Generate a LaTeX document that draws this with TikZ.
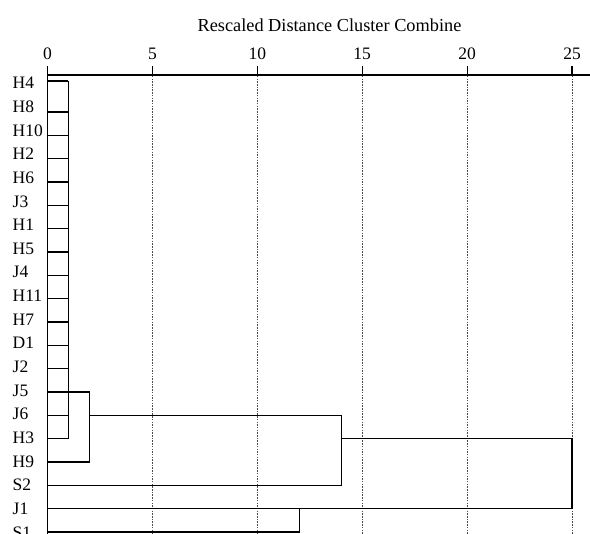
\documentclass[tikz,border=0pt]{standalone}
\usepackage{fontspec}
\setmainfont{Liberation Serif}
\usetikzlibrary{positioning}

\begin{document}
\begin{tikzpicture}[x=20.98pt,y=-1pt,
leaflabel/.style={anchor=base west,inner sep=0pt,font=\fontsize{17.5}{20}\selectfont},
ticklabel/.style={anchor=base,inner sep=0pt,font=\fontsize{17.5}{20}\selectfont},
link/.style={line width=1.2pt},
gridline/.style={line width=0.5pt,black!70,dash pattern=on 1.5pt off 1.2pt}]
\clip (-2.264,0) rectangle (25.858,534);
\node[ticklabel,font=\fontsize{18.3}{21}\selectfont] (title) at (13.44,32) {Rescaled Distance Cluster Combine};
% axis with ticks and dashed guides
\foreach \d in {0,5,...,25} {
  \node[ticklabel] (t\d) at (\d,60) {\d};
  \draw[link] (\d,66) -- (\d,75);
}
\foreach \d in {5,10,...,25}
  \draw[gridline] (\d,76) -- (\d,534);
\draw[link] (0,75) -- (25.86,75);
\draw[link] (0,66) -- (0,534);
% leaves
\foreach \lab [count=\i from 0] in {H4,H8,H10,H2,H6,J3,H1,H5,J4,H11,H7,D1,J2,J5,J6,H3,H9,S2,J1,S1} {
  \node[leaflabel] (\lab) at (-1.668,{88.8+23.65*\i}) {\lab};
  \coordinate (r-\lab) at (0,{112+23.33*(\i-1)});
}
\coordinate (r-H4) at (0,81);
\coordinate (d1) at (1,0);
\coordinate (d2) at (2,0);
\coordinate (d12) at (12,0);
\coordinate (d14) at (14,0);
\coordinate (d25) at (25,0);
% merges
\foreach \lab in {H4,H8,H10,H2,H6,J3,H1,H5,J4,H11,H7,D1,J2,J6,H3}
  \draw[link] (r-\lab) -- (d1 |- r-\lab);
\draw[link] (d1 |- r-H4) -- (d1 |- r-H3);
\draw[link] (r-J5) -- (d2 |- r-J5) -- (d2 |- r-H9) -- (r-H9);
\draw[link] (d2 |- r-J6) -- (d14 |- r-J6) -- (d14 |- r-S2) -- (r-S2);
\draw[link] (d14 |- r-H3) -- (d25 |- r-H3) -- (d25 |- r-J1) -- (r-J1);
\draw[link] (r-S1) -- (d12 |- r-S1) -- (d12 |- r-J1);
\end{tikzpicture}
\end{document}
